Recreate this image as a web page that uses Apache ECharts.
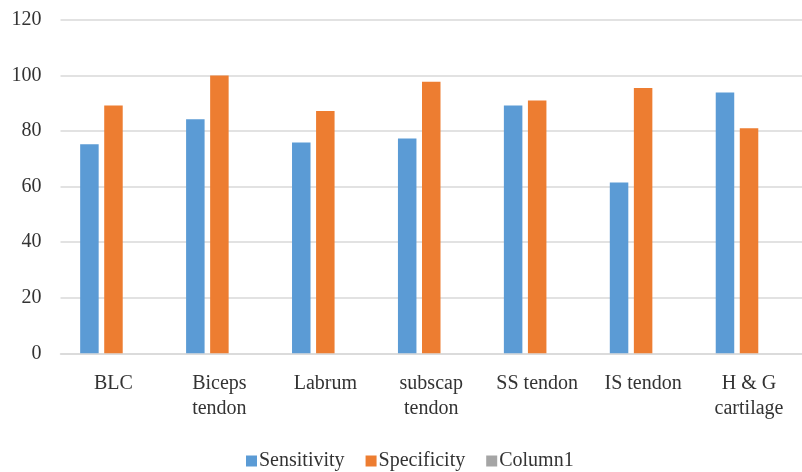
<!DOCTYPE html>
<html>
<head>
<meta charset="utf-8">
<script src="https://cdn.jsdelivr.net/npm/echarts@6/dist/echarts.min.js"></script>
<style>
html,body{margin:0;padding:0;background:#fff;}
#chart{width:802px;height:472px;}
</style>
</head>
<body>
<div id="chart"></div>
<script>
var categories = ['BLC', 'Biceps\ntendon', 'Labrum', 'subscap\ntendon', 'SS tendon', 'IS tendon', 'H & G\ncartilage'];
var sensitivity = [75.3, 84.3, 75.9, 77.3, 89.2, 61.5, 93.9];
var specificity = [89.2, 100, 87.2, 97.8, 91.0, 95.5, 81.0];
var column1 = [null, null, null, null, null, null, null];
var yTicks = [0, 20, 40, 60, 80, 100, 120];

var FONT = '"Liberation Serif", "Times New Roman", serif';
var chart = echarts.init(document.getElementById('chart'), null, {renderer: 'canvas'});
chart.setOption({
  backgroundColor: '#ffffff',
  animation: false,
  textStyle: {fontFamily: FONT},
  grid: {left: 60.5, right: -11.7, top: 20, bottom: 118.7, containLabel: false},
  legend: {
    left: 241, top: 446,
    itemWidth: 11, itemHeight: 11, itemGap: 21,
    icon: 'rect',
    textStyle: {fontFamily: FONT, fontSize: 20, color: '#333', padding: [0, 0, 0, -3]},
    data: ['Sensitivity', 'Specificity', 'Column1']
  },
  xAxis: {
    type: 'category',
    data: categories,
    axisTick: {show: false},
    axisLine: {show: true, lineStyle: {color: '#d9d9d9', width: 1.5}},
    axisLabel: {fontFamily: FONT, fontSize: 20, color: '#333', margin: 18, lineHeight: 25, interval: 0}
  },
  yAxis: {
    type: 'value',
    min: yTicks[0], max: yTicks[yTicks.length - 1], interval: 20,
    axisLine: {show: false},
    axisTick: {show: false},
    splitLine: {lineStyle: {color: '#d9d9d9', width: 1.5}},
    axisLabel: {fontFamily: FONT, fontSize: 20, color: '#333', margin: 19}
  },
  series: [
    {name: 'Sensitivity', type: 'bar', data: sensitivity, barWidth: 18.5, barGap: '30%', itemStyle: {color: '#5B9BD5'}},
    {name: 'Specificity', type: 'bar', data: specificity, barWidth: 18.5, barGap: '30%', itemStyle: {color: '#ED7D31'}},
    {name: 'Column1', type: 'bar', data: column1, barWidth: 18.5, barGap: '30%', itemStyle: {color: '#A5A5A5'}}
  ]
});
</script>
</body>
</html>
